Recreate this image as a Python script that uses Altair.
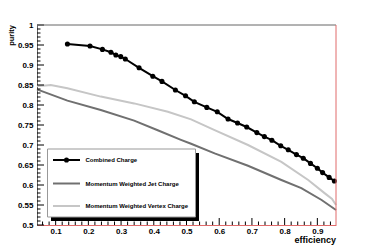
import altair as alt
import pandas as pd

# Combined Charge (black, with markers)
comb_x = [0.136, 0.205, 0.243, 0.269, 0.284, 0.299, 0.313, 0.355, 0.397, 0.425,
          0.466, 0.497, 0.524, 0.562, 0.594, 0.627, 0.656, 0.684, 0.715, 0.738,
          0.761, 0.788, 0.811, 0.836, 0.857, 0.879, 0.900, 0.916, 0.936, 0.952]
comb_y = [0.9525, 0.9475, 0.939, 0.932, 0.925, 0.921, 0.915, 0.893, 0.872, 0.859,
          0.8375, 0.823, 0.808, 0.794, 0.783, 0.765, 0.755, 0.745, 0.731, 0.721,
          0.712, 0.698, 0.688, 0.676, 0.667, 0.654, 0.642, 0.631, 0.619, 0.610]

# Momentum Weighted Jet Charge (dark gray)
jet_x = [0.043, 0.136, 0.238, 0.340, 0.412, 0.483, 0.514, 0.586, 0.688, 0.790, 0.851, 0.913, 0.957]
jet_y = [0.839, 0.811, 0.7875, 0.761, 0.737, 0.713, 0.703, 0.679, 0.648, 0.6125, 0.592, 0.5625, 0.5375]

# Momentum Weighted Vertex Charge (light gray)
vtx_x = [0.043, 0.070, 0.085, 0.136, 0.238, 0.340, 0.443, 0.514, 0.586, 0.688, 0.790, 0.872, 0.923, 0.945, 0.957]
vtx_y = [0.8475, 0.849, 0.850, 0.842, 0.821, 0.804, 0.783, 0.764, 0.737, 0.700, 0.658, 0.6125, 0.579, 0.565, 0.550]

x_labels = [0.1, 0.2, 0.3, 0.4, 0.5, 0.6, 0.7, 0.8, 0.9]
y_labels = [0.5, 0.55, 0.6, 0.65, 0.7, 0.75, 0.8, 0.85, 0.9, 0.95, 1.0]
x_minor = [round(0.06 + 0.02 * i, 2) for i in range(45) if round(0.06 + 0.02 * i, 2) not in x_labels]
y_minor = [round(0.51 + 0.01 * i, 2) for i in range(49) if round((0.51 + 0.01 * i) * 20, 6) % 1 != 0]

series_names = ["Combined Charge", "Momentum Weighted Jet Charge", "Momentum Weighted Vertex Charge"]

W, H = 299, 200
FONT = "Liberation Sans"
RED = "#e06a6a"
FRAME = "#666666"
DARK = "#707070"
LIGHT = "#c6c6c6"

xs = alt.Scale(domain=[0.043, 0.957], nice=False, zero=False)
ys = alt.Scale(domain=[0.5, 1.0], nice=False, zero=False)

x_axis = alt.Axis(values=x_labels, format=".1~f", tickSize=0, labelPadding=2,
                  domainColor=RED, domainWidth=1, grid=False, title=None,
                  labelOverlap=False, labelFlush=False)
y_axis = alt.Axis(values=y_labels, format=".2~f", tickSize=0, labelPadding=4,
                  domainColor=FRAME, domainWidth=1, grid=False, title=None,
                  labelOverlap=False, labelFlush=False)

df_comb = pd.DataFrame({"x": comb_x, "y": comb_y})
df_jet = pd.DataFrame({"x": jet_x, "y": jet_y})
df_vtx = pd.DataFrame({"x": vtx_x, "y": vtx_y})
one = pd.DataFrame({"a": [0]})

X = alt.X("x:Q", scale=xs, axis=x_axis)
Y = alt.Y("y:Q", scale=ys, axis=y_axis)

vtx_line = alt.Chart(df_vtx).mark_line(color=LIGHT, strokeWidth=2).encode(x=X, y=Y)
jet_line = alt.Chart(df_jet).mark_line(color=DARK, strokeWidth=2).encode(x=X, y=Y)
comb_line = alt.Chart(df_comb).mark_line(color="black", strokeWidth=2).encode(x=X, y=Y)
comb_pts = alt.Chart(df_comb).mark_circle(color="black", size=26, opacity=1).encode(x=X, y=Y)

# inward ticks
def xticks(vals, length):
    return alt.Chart(pd.DataFrame({"x": vals})).mark_rule(color="black", strokeWidth=1).encode(
        x=X, y=alt.value(H), y2=alt.value(H - length))

def yticks(vals, length):
    return alt.Chart(pd.DataFrame({"y": vals})).mark_rule(color="black", strokeWidth=1).encode(
        y=Y, x=alt.value(0), x2=alt.value(length))

frame_top = alt.Chart(one).mark_rule(color=FRAME, strokeWidth=1).encode(
    x=alt.value(0), x2=alt.value(W), y=alt.value(0))
frame_right = alt.Chart(one).mark_rule(color=RED, strokeWidth=1).encode(
    x=alt.value(W), y=alt.value(0), y2=alt.value(H))

# legend
leg_shadow = alt.Chart(one).mark_rect(color="black").encode(
    x=alt.value(14), x2=alt.value(162), y=alt.value(128), y2=alt.value(196))
leg_box = alt.Chart(one).mark_rect(fill="white", stroke="#999999", strokeWidth=1).encode(
    x=alt.value(10.5), x2=alt.value(158.5), y=alt.value(124), y2=alt.value(192))
leg_rows = [(135, "black"), (158.5, DARK), (181, LIGHT)]
legend_layers = [leg_shadow, leg_box]
for (yy, col), name in zip(leg_rows, series_names):
    legend_layers.append(alt.Chart(one).mark_rule(color=col, strokeWidth=2).encode(
        x=alt.value(16), x2=alt.value(43), y=alt.value(yy)))
    legend_layers.append(alt.Chart(one).mark_text(
        text=name, align="left", baseline="middle", font=FONT, fontSize=6,
        fontWeight="bold", color="black").encode(x=alt.value(48.5), y=alt.value(yy)))
legend_layers.append(alt.Chart(one).mark_circle(color="black", size=26, opacity=1).encode(
    x=alt.value(29.5), y=alt.value(135)))

title_y = alt.Chart(one).mark_text(
    text="purity", angle=270, align="right", baseline="alphabetic", font=FONT,
    fontSize=7.5, fontWeight="bold", color="black").encode(x=alt.value(-23), y=alt.value(0))
title_x = alt.Chart(one).mark_text(
    text="efficiency", align="right", baseline="alphabetic", font=FONT,
    fontSize=9, fontWeight="bold", color="black").encode(x=alt.value(W), y=alt.value(218))

chart = alt.layer(
    vtx_line, jet_line, comb_line, comb_pts,
    xticks(x_labels, 7), xticks(x_minor, 3.5), yticks(y_labels, 7), yticks(y_minor, 3.5),
    frame_top, frame_right, *legend_layers, title_y, title_x
).properties(
    width=W, height=H,
    autosize=alt.AutoSizeParams(type="none"),
    padding={"left": 29, "top": 17, "right": 28, "bottom": 20},
    background="white",
).configure_view(stroke=None).configure_axis(
    labelFont=FONT, labelFontSize=8, labelFontWeight="bold", labelColor="black"
)

chart.save("out.html", embed_options={"renderer": "svg", "actions": False})
